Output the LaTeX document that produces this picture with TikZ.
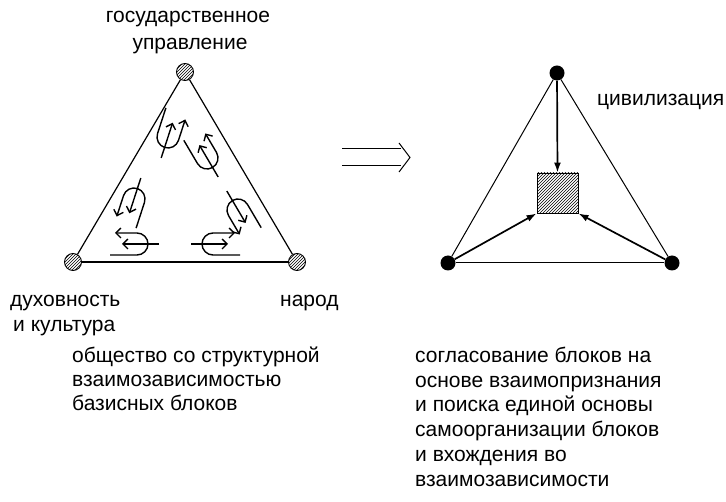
\documentclass[tikz,border=0pt]{standalone}
\usepackage{fontspec}
\setmainfont{Liberation Sans}
\usetikzlibrary{arrows.meta,patterns}
\tikzset{
  hatchc/.style={circle,draw,line width=0.9pt,minimum size=17pt,inner sep=0pt,pattern=north east lines},
  dotc/.style={circle,fill=black,minimum size=15pt,inner sep=0pt},
  edge/.style={line width=1.2pt},
  thinedge/.style={line width=1pt},
  flow/.style={line width=1.4pt,-{Straight Barb[length=5pt,width=10pt,line width=1.4pt]}},
  heavy/.style={line width=1.7pt,-{Latex[length=10pt,width=7pt]}},
  lbl/.style={inner sep=0pt,anchor=base west,font=\fontsize{21}{25}\selectfont},
  lblc/.style={inner sep=0pt,anchor=base,font=\fontsize{21}{25}\selectfont},
}
\newcommand\uturnsym[4]{%
  \begin{scope}[shift={(#1,#2)},rotate=#3,yscale=#4]
    \draw[flow] (27,11) -- (0,11) arc[start angle=90,end angle=270,radius=11] -- (22,-11);
    \draw[flow] (-22,0) -- (15,0);
  \end{scope}}
\begin{document}
\begin{tikzpicture}[x=1pt,y=1pt]
\useasboundingbox (0,0) rectangle (726,501);
% left triangle
\node[hatchc] (gt) at (185,429) {};
\node[hatchc] (gl) at (73,239) {};
\node[hatchc] (gr) at (297,239) {};
\draw[edge] (gt) -- (gl);
\draw[edge] (gl) -- (gr);
\draw[edge] (gr) -- (gt);
% flow symbols
\uturnsym{137}{257}{180}{1}
\uturnsym{213}{257}{0}{-1}
\uturnsym{134}{302}{252}{1}
\uturnsym{168}{364}{72}{1}
\uturnsym{207}{343}{120.5}{1}
\uturnsym{238}{291}{300.5}{1}
% big implication arrow
\coordinate (ia) at (342,352);
\coordinate (ib) at (342,335);
\coordinate (ic) at (401,352);
\coordinate (id) at (401,335);
\draw[thinedge] (ia) -- (ic);
\draw[thinedge] (ib) -- (id);
\draw[thinedge] (399,358) -- (410,343.5) -- (399,329);
% right triangle
\node[dotc] (ct) at (557,428) {};
\node[dotc] (cl) at (448,238) {};
\node[dotc] (cr) at (672,238) {};
\node[draw,line width=0.9pt,minimum width=41pt,minimum height=40pt,inner sep=0pt,pattern=north east lines] (sq) at (557.5,308) {};
\draw[thinedge] (ct) -- (cl);
\draw[thinedge] (cl) -- (cr);
\draw[thinedge] (cr) -- (ct);
\draw[heavy] (ct) -- (sq.north);
\draw[heavy] (cl) -- (sq.south west);
\draw[heavy] (cr) -- (sq.south east);
% labels
\node[lblc] (t1) at (188,478) {государственное};
\node[lblc] (t2) at (190,451) {управление};
\node[lbl] (t3) at (597,395) {цивилизация};
\node[lbl] (t4) at (10,194) {духовность};
\node[lbl] (t5) at (13,169) {и культура};
\node[lbl] (t6) at (280,194) {народ};
\node[lbl] (l1) at (72,138) {общество со структурной};
\node[lbl] (l2) at (72,114) {взаимозависимостью};
\node[lbl] (l3) at (72,90) {базисных блоков};
\node[lbl] (r1) at (415,138) {согласование блоков на};
\node[lbl] (r2) at (415,113.5) {основе взаимопризнания};
\node[lbl] (r3) at (415,89) {и поиска единой основы};
\node[lbl] (r4) at (415,64) {самоорганизации блоков};
\node[lbl] (r5) at (415,39.5) {и вхождения во};
\node[lbl] (r6) at (415,15) {взаимозависимости};
\end{tikzpicture}
\end{document}
